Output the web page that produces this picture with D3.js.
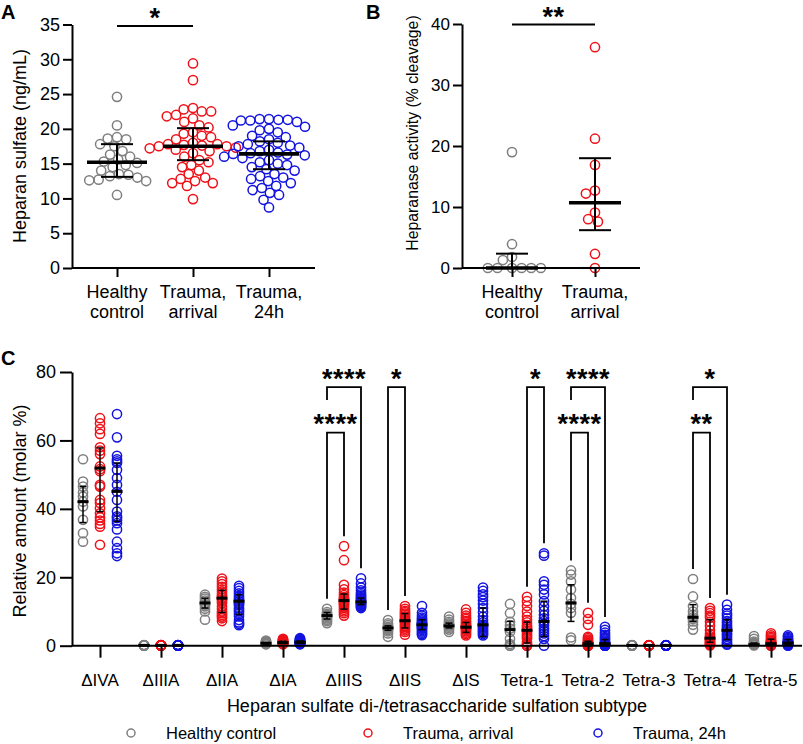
<!DOCTYPE html>
<html><head><meta charset="utf-8">
<script src="https://cdn.jsdelivr.net/npm/d3@7"></script>
<style>
body{margin:0;background:#fff}
text{font-family:"Liberation Sans",Arial,Helvetica,sans-serif;fill:#000}
</style>
</head><body>
<svg id="chart" width="803" height="744"></svg>
<script>
// ---------------- DATA ----------------
const groupNames = ["Healthy control", "Trauma, arrival", "Trauma, 24h"];
const groupColors = ["#7f7f7f", "#ee1118", "#1414e0"];

// Panel A: Heparan sulfate (ng/mL)
const aCategories = ["Healthy control", "Trauma, arrival", "Trauma, 24h"];
const aLabels = [["Healthy", "control"], ["Trauma,", "arrival"], ["Trauma,", "24h"]];
const aHealthy = [24.6, 20.5, 18.8, 18.6, 18.5, 17.8, 17.5, 16.8, 16.3, 16.0, 15.6, 15.3, 15.1, 14.8, 14.5, 14.0, 13.5, 13.4, 13.2, 13.0, 12.7, 12.6, 12.5, 10.5];
const aArrival = [29.4, 27.0, 23.0, 22.8, 22.5, 22.5, 22.0, 21.8, 21.5, 21.0, 20.5, 20.2, 19.5, 19.3, 19.0, 18.8, 18.5, 18.0, 17.8, 17.8, 17.7, 17.6, 17.5, 17.5, 17.3, 17.2, 17.0, 16.8, 16.5, 16.0, 15.5, 15.2, 14.8, 14.5, 14.0, 13.5, 13.0, 12.8, 12.5, 12.2, 12.2, 11.8, 9.9];
const a24h = [21.4, 21.4, 21.3, 21.3, 21.2, 21.2, 21.0, 20.5, 20.3, 20.0, 19.8, 19.5, 19.0, 18.8, 18.5, 18.2, 18.0, 17.8, 17.6, 17.5, 17.3, 17.0, 16.8, 16.6, 16.5, 16.4, 16.3, 16.2, 16.0, 15.8, 15.5, 15.2, 15.0, 14.8, 14.5, 14.2, 14.0, 13.5, 13.2, 13.0, 12.8, 12.5, 12.2, 11.8, 11.5, 11.2, 10.8, 10.5, 9.8, 8.7];
const aMedian = [15.2, 17.5, 16.4];
const aQ1 = [13.1, 15.5, 14.2];
const aQ3 = [17.8, 20.1, 18.2];
const aTicks = [0, 5, 10, 15, 20, 25, 30, 35];

// Panel B: Heparanase activity (% cleavage)
const bCategories = ["Healthy control", "Trauma, arrival"];
const bLabels = [["Healthy", "control"], ["Trauma,", "arrival"]];
const bHealthy = [19.0, 3.9, 1.8, 1.3, 0, 0, 0, 0, 0, 0];
const bArrival = [36.2, 21.2, 16.9, 12.7, 12.2, 9.1, 8.0, 7.6, 2.3, 0];
const bMedian = [0, 10.7];
const bQ1 = [0, 6.2];
const bQ3 = [2.35, 18.0];
const bTicks = [0, 10, 20, 30, 40];

// Panel C: Relative amount (molar %)
const cCategories = ["ΔIVA", "ΔIIIA", "ΔIIA", "ΔIA", "ΔIIIS", "ΔIIS", "ΔIS", "Tetra-1", "Tetra-2", "Tetra-3", "Tetra-4", "Tetra-5"];
const cHealthy = [
  [54.5, 48.0, 46.5, 44.8, 43.6, 42.1, 40.7, 36.8, 32.9, 30.4],
  [0.2, 0.1, 0.1, 0.1, 0.1, 0.1, 0.1, 0.1, 0.1, 0.1],
  [14.9, 14.3, 13.8, 13.2, 12.5, 12.0, 11.5, 10.8, 10.0, 7.6],
  [1.5, 1.2, 1.0, 0.9, 0.8, 0.7, 0.6, 0.5, 0.5, 0.4],
  [10.8, 9.8, 9.3, 9.0, 8.7, 8.4, 8.0, 7.6, 7.2, 6.6],
  [7.5, 6.5, 6.0, 5.5, 5.2, 5.0, 4.6, 4.2, 3.6, 2.6],
  [8.5, 7.6, 7.0, 6.5, 6.2, 5.9, 5.6, 5.2, 4.7, 4.0],
  [12.2, 9.5, 7.0, 6.0, 5.0, 4.0, 2.0, 0.5, 0, 0],
  [22.0, 20.8, 18.8, 16.4, 14.0, 12.2, 11.0, 9.6, 2.4, 1.6],
  [0.2, 0.1, 0.1, 0.1, 0.1, 0.1, 0.1, 0.1, 0.1, 0.1],
  [19.5, 14.4, 11.5, 10.0, 9.0, 8.3, 7.8, 7.1, 6.1, 4.7],
  [2.8, 2.0, 1.2, 0.8, 0.6, 0.5, 0.4, 0.3, 0.2, 0.1]
];
const cArrival = [
  [66.5, 65.0, 63.3, 61.9, 58.0, 57.0, 56.0, 52.4, 51.6, 51.0, 47.0, 46.5, 42.6, 41.7, 40.2, 38.7, 37.5, 36.6, 35.6, 34.8, 29.5],
  [0.2, 0.2, 0.1, 0.1, 0.1, 0.1, 0.1, 0.1, 0.1, 0.1, 0.1, 0.1, 0.1, 0.1, 0.1, 0.1, 0.1, 0.1, 0.1, 0.1],
  [19.6, 18.8, 18.0, 17.2, 16.5, 15.8, 15.0, 14.5, 14.0, 13.5, 13.0, 12.5, 11.5, 10.8, 10.0, 9.5, 9.0, 8.5, 8.0, 7.2],
  [2.0, 1.8, 1.6, 1.5, 1.4, 1.3, 1.2, 1.1, 1.0, 1.0, 0.9, 0.9, 0.8, 0.8, 0.7, 0.7, 0.6, 0.5, 0.5, 0.4],
  [29.1, 25.0, 17.8, 16.5, 15.5, 14.8, 14.2, 13.8, 13.5, 13.0, 12.8, 12.5, 12.2, 11.9, 11.5, 11.0, 10.5, 10.0, 9.5, 8.8],
  [11.6, 10.8, 10.2, 9.8, 9.4, 9.0, 8.6, 8.2, 7.8, 7.4, 7.2, 7.0, 6.6, 6.2, 5.8, 5.4, 5.0, 4.5, 4.0, 3.2],
  [10.6, 9.6, 8.8, 8.2, 7.8, 7.2, 6.8, 6.4, 6.0, 5.8, 5.6, 5.4, 5.2, 5.0, 4.8, 4.5, 4.2, 3.8, 3.4, 3.0],
  [14.3, 13.0, 11.6, 10.0, 8.5, 7.5, 6.8, 6.0, 5.5, 5.0, 4.5, 4.0, 3.5, 3.0, 2.5, 2.0, 1.0, 0.5, 0, 0],
  [9.6, 7.8, 6.1, 2.6, 2.2, 1.8, 1.5, 1.2, 1.0, 0.8, 0.6, 0.5, 0.4, 0.3, 0.2, 0.1, 0.1, 0, 0, 0],
  [0.2, 0.1, 0.1, 0.1, 0.1, 0.1, 0.1, 0.1, 0.1, 0.1, 0.1, 0.1, 0.1, 0.1, 0.1, 0.1, 0.1, 0.1, 0.1, 0.1],
  [11.0, 10.2, 9.5, 8.8, 8.2, 7.0, 5.8, 4.5, 3.5, 2.8, 2.4, 2.0, 1.8, 1.5, 1.2, 1.0, 0.8, 0.5, 0.3, 0.1],
  [3.6, 3.0, 2.6, 2.2, 1.8, 1.5, 1.3, 1.1, 1.0, 0.9, 0.8, 0.7, 0.6, 0.5, 0.4, 0.3, 0.2, 0.1, 0.1, 0]
];
const c24h = [
  [67.7, 60.9, 55.5, 54.5, 53.9, 53.4, 51.4, 49.0, 47.0, 45.0, 42.6, 39.2, 37.8, 37.3, 36.6, 35.8, 34.0, 30.4, 28.5, 27.0, 26.2],
  [0.2, 0.2, 0.1, 0.1, 0.1, 0.1, 0.1, 0.1, 0.1, 0.1, 0.1, 0.1, 0.1, 0.1, 0.1, 0.1, 0.1, 0.1, 0.1, 0.1],
  [17.5, 16.8, 16.0, 15.3, 14.6, 14.0, 13.5, 13.0, 12.5, 12.2, 11.8, 11.0, 10.5, 10.0, 9.3, 8.6, 7.5, 6.8, 6.4, 6.0],
  [2.2, 2.0, 1.8, 1.6, 1.5, 1.4, 1.3, 1.2, 1.1, 1.0, 1.0, 0.9, 0.9, 0.8, 0.8, 0.7, 0.6, 0.6, 0.5, 0.4],
  [19.7, 18.2, 17.0, 16.2, 15.5, 15.0, 14.6, 14.2, 13.9, 13.6, 13.3, 13.0, 12.7, 12.5, 12.2, 12.0, 11.8, 11.5, 11.3, 11.0],
  [11.6, 9.6, 8.8, 8.2, 7.8, 7.4, 7.0, 6.8, 6.5, 6.3, 6.0, 5.8, 5.5, 5.2, 5.0, 4.6, 4.2, 3.8, 3.4, 3.1],
  [17.0, 16.0, 15.0, 14.2, 13.2, 12.2, 11.0, 9.8, 8.5, 7.5, 6.8, 6.2, 5.8, 5.5, 5.0, 4.6, 4.2, 3.8, 3.4, 3.0],
  [27.0, 26.3, 18.8, 17.8, 16.4, 15.0, 13.0, 11.5, 10.2, 9.0, 8.0, 7.2, 6.5, 5.8, 5.0, 4.4, 3.6, 2.8, 2.0, 0],
  [5.5, 4.6, 3.8, 3.2, 2.6, 2.2, 1.8, 1.3, 1.0, 0.8, 0.6, 0.5, 0.4, 0.3, 0.2, 0.1, 0.1, 0, 0, 0],
  [0.2, 0.1, 0.1, 0.1, 0.1, 0.1, 0.1, 0.1, 0.1, 0.1, 0.1, 0.1, 0.1, 0.1, 0.1, 0.1, 0.1, 0.1, 0.1, 0.1],
  [12.0, 10.5, 9.4, 8.8, 8.0, 7.2, 6.6, 6.0, 5.5, 5.0, 4.6, 4.2, 3.6, 3.2, 2.6, 2.0, 1.6, 1.0, 0.6, 0.3],
  [3.0, 2.6, 2.2, 1.9, 1.6, 1.4, 1.2, 1.1, 1.0, 0.9, 0.8, 0.7, 0.6, 0.5, 0.4, 0.3, 0.2, 0.2, 0.1, 0]
];
const cHealthyMedian = [42.1, 0.1, 12.5, 0.7, 8.8, 5.2, 5.8, 4.7, 12.5, 0.1, 8.3, 0.3];
const cHealthyQ1 = [36.0, 0.1, 11.0, 0.5, 7.8, 4.5, 5.2, 0.0, 7.1, 0.1, 7.1, 0.1];
const cHealthyQ3 = [46.5, 0.1, 13.9, 1.0, 9.7, 5.8, 6.6, 7.1, 17.8, 0.1, 12.0, 0.8];
const cArrivalMedian = [51.9, 0.1, 13.9, 0.9, 13.2, 7.3, 5.4, 4.5, 0.6, 0.1, 2.2, 0.6];
const cArrivalQ1 = [39.2, 0.1, 9.7, 0.7, 10.7, 5.2, 3.9, 0.8, 0.0, 0.1, 1.0, 0.3];
const cArrivalQ3 = [57.8, 0.1, 16.2, 1.3, 15.1, 9.4, 6.8, 6.9, 1.3, 0.1, 7.6, 1.9];
const c24hMedian = [45.1, 0.1, 13.0, 1.0, 12.8, 6.1, 6.1, 7.1, 0.6, 0.1, 4.5, 0.8];
const c24hQ1 = [36.3, 0.1, 9.1, 0.8, 12.0, 4.7, 2.7, 2.7, 0.0, 0.1, 1.8, 0.3];
const c24hQ3 = [53.4, 0.1, 14.9, 1.4, 13.9, 7.6, 11.0, 13.0, 1.8, 0.1, 7.6, 1.8];
const cTicks = [0, 20, 40, 60, 80];
// significance brackets: category, first group, second group, level (0 = upper, 1 = lower), label
const cBracketCats = ["ΔIIIS", "ΔIIIS", "ΔIIS", "Tetra-1", "Tetra-2", "Tetra-2", "Tetra-4", "Tetra-4"];
const cBracketFrom = [0, 0, 0, 1, 0, 0, 0, 0];
const cBracketTo = [1, 2, 1, 2, 1, 2, 1, 2];
const cBracketLevel = [1, 0, 0, 0, 1, 0, 1, 0];
const cBracketLabels = ["****", "****", "*", "*", "****", "****", "**", "*"];

// ---------------- DRAWING ----------------
const svg = d3.select("#chart");
const BLACK = "#000";

function swarm(values, cx, yScale, dmin) {
  const pts = values.map(v => ({ v, y: yScale(v) })).sort((a, b) => b.v - a.v);
  const placed = [];
  pts.forEach(p => {
    const cands = [0];
    placed.forEach(q => {
      const dy = Math.abs(q.y - p.y);
      if (dy < dmin) {
        const dx = Math.sqrt(dmin * dmin - dy * dy);
        cands.push(q.x - cx + dx + 0.01, q.x - cx - dx - 0.01);
      }
    });
    cands.sort((a, b) => (Math.abs(a) - Math.abs(b)) || (a - b));
    for (const c of cands) {
      const x = cx + c;
      if (placed.every(q => (q.x - x) ** 2 + (q.y - p.y) ** 2 >= dmin * dmin - 0.05)) { p.x = x; break; }
    }
    placed.push(p);
  });
  return placed;
}

function yAxis(y, x0, ticks, tickLen, pad, fs) {
  const g = svg.append("g").attr("transform", `translate(${x0},0)`)
    .call(d3.axisLeft(y).tickValues(ticks).tickSize(tickLen).tickSizeOuter(0).tickPadding(pad).tickFormat(d3.format("d")));
  g.select(".domain").attr("stroke", BLACK).attr("stroke-width", 2);
  g.selectAll(".tick line").attr("stroke", BLACK).attr("stroke-width", 2);
  g.selectAll(".tick text").attr("font-size", fs).attr("fill", BLACK)
    .style("font-family", '"Liberation Sans",Arial,sans-serif');
  return g;
}

function xAxis(x, y0, xStart, xEnd, tickLen) {
  svg.append("line").attr("x1", xStart).attr("x2", xEnd).attr("y1", y0).attr("y2", y0)
    .attr("stroke", BLACK).attr("stroke-width", 2);
  const g = svg.append("g").attr("transform", `translate(0,${y0})`)
    .call(d3.axisBottom(x).tickSize(tickLen).tickSizeOuter(0).tickFormat(""));
  g.select(".domain").remove();
  g.selectAll(".tick line").attr("stroke", BLACK).attr("stroke-width", 2);
  return g;
}

function summary(cx, y, med, q1, q3, mw, cw, mwid, lw) {
  const g = svg.append("g").attr("stroke", BLACK);
  g.append("line").attr("x1", cx).attr("x2", cx).attr("y1", y(q1)).attr("y2", y(q3)).attr("stroke-width", lw);
  g.append("line").attr("x1", cx - cw).attr("x2", cx + cw).attr("y1", y(q1)).attr("y2", y(q1)).attr("stroke-width", lw);
  g.append("line").attr("x1", cx - cw).attr("x2", cx + cw).attr("y1", y(q3)).attr("y2", y(q3)).attr("stroke-width", lw);
  g.append("line").attr("x1", cx - mw).attr("x2", cx + mw).attr("y1", y(med)).attr("y2", y(med)).attr("stroke-width", mwid);
}

function stars(x, yc, label) {
  svg.append("text").attr("x", x).attr("y", yc + 16).attr("text-anchor", "middle")
    .attr("font-size", 27).attr("font-weight", "bold").attr("letter-spacing", 0.5).text(label);
}

function panelLetter(t, x, y) {
  svg.append("text").attr("x", x).attr("y", y).attr("font-size", 20).attr("font-weight", "bold").text(t);
}

function catLabels(x, cats, labels, y1, y2, fs) {
  cats.forEach((c, i) => {
    const t = svg.append("text").attr("text-anchor", "middle").attr("font-size", fs);
    t.append("tspan").attr("x", x(c)).attr("y", y1).text(labels[i][0]);
    t.append("tspan").attr("x", x(c)).attr("y", y2).text(labels[i][1]);
  });
}

const R = 4.6, SW = 1.5;

// ---- Panel A ----
{
  const y = d3.scaleLinear().domain([0, 35]).range([268, 24.5]);
  const x = d3.scalePoint().domain(aCategories).range([117, 269]);
  const series = [aHealthy, aArrival, a24h];
  series.forEach((vals, i) => {
    const pts = swarm(vals, x(aCategories[i]), y, 9.4);
    svg.append("g").selectAll("circle").data(pts).join("circle")
      .attr("cx", d => d.x).attr("cy", d => d.y).attr("r", R)
      .attr("fill", "none").attr("stroke", groupColors[i]).attr("stroke-width", SW);
  });
  aCategories.forEach((c, i) => summary(x(c), y, aMedian[i], aQ1[i], aQ3[i], 30, 16, 3.6, 2));
  yAxis(y, 72, aTicks, 9, 3, 18);
  xAxis(x, 268, 72, 315, 9);
  catLabels(x, aCategories, aLabels, 297.5, 318, 18);
  svg.append("text").attr("transform", "translate(26,146) rotate(-90)").attr("text-anchor", "middle")
    .attr("font-size", 18).text("Heparan sulfate (ng/mL)");
  svg.append("line").attr("x1", x(aCategories[0])).attr("x2", x(aCategories[1])).attr("y1", 26).attr("y2", 26)
    .attr("stroke", BLACK).attr("stroke-width", 1.8);
  stars((x(aCategories[0]) + x(aCategories[1])) / 2, 11, "*");
  panelLetter("A", 1, 19);
}

// ---- Panel B ----
{
  const y = d3.scaleLinear().domain([0, 40]).range([268, 24]);
  const x = d3.scalePoint().domain(bCategories).range([512, 595]);
  const series = [bHealthy, bArrival];
  series.forEach((vals, i) => {
    const pts = swarm(vals, x(bCategories[i]), y, 9.6);
    svg.append("g").selectAll("circle").data(pts).join("circle")
      .attr("cx", d => d.x).attr("cy", d => d.y).attr("r", R)
      .attr("fill", "none").attr("stroke", groupColors[i]).attr("stroke-width", SW);
  });
  bCategories.forEach((c, i) => summary(x(c), y, bMedian[i], bQ1[i], bQ3[i], 26, 16, 3.6, 2));
  yAxis(y, 462, bTicks, 9, 3, 17);
  xAxis(x, 268, 462, 640, 9);
  catLabels(x, bCategories, bLabels, 297.5, 318, 18);
  svg.append("text").attr("transform", "translate(418,133) rotate(-90)").attr("text-anchor", "middle")
    .attr("font-size", 15.8).text("Heparanase activity (% cleavage)");
  svg.append("line").attr("x1", x(bCategories[0])).attr("x2", x(bCategories[1])).attr("y1", 24.5).attr("y2", 24.5)
    .attr("stroke", BLACK).attr("stroke-width", 1.8);
  stars((x(bCategories[0]) + x(bCategories[1])) / 2, 9.5, "**");
  panelLetter("B", 366, 18.5);
}

// ---- Panel C ----
{
  const y = d3.scaleLinear().domain([0, 80]).range([645.7, 372]);
  const x = d3.scalePoint().domain(cCategories).range([100, 771]);
  const off = d3.scalePoint().domain([0, 1, 2]).range([-17, 17]);
  const series = [cHealthy, cArrival, c24h];
  const meds = [cHealthyMedian, cArrivalMedian, c24hMedian];
  const q1s = [cHealthyQ1, cArrivalQ1, c24hQ1];
  const q3s = [cHealthyQ3, cArrivalQ3, c24hQ3];

  series.forEach((s, gi) => {
    s.forEach((vals, ci) => {
      const cx = x(cCategories[ci]) + off(gi);
      svg.append("g").selectAll("circle").data(vals).join("circle")
        .attr("cx", cx).attr("cy", d => y(d)).attr("r", R)
        .attr("fill", "none").attr("stroke", groupColors[gi]).attr("stroke-width", SW);
    });
  });
  series.forEach((s, gi) => {
    s.forEach((vals, ci) => {
      const cx = x(cCategories[ci]) + off(gi);
      summary(cx, y, meds[gi][ci], q1s[gi][ci], q3s[gi][ci], 5.5, 3.5, 3, 1.5);
    });
  });

  yAxis(y, 72, cTicks, 12, 4, 18);
  xAxis(x, 645.7, 72, 802, 12);
  svg.append("g").selectAll("text").data(cCategories).join("text")
    .attr("x", d => x(d)).attr("y", 686).attr("text-anchor", "middle").attr("font-size", 17).text(d => d);
  svg.append("text").attr("x", 437).attr("y", 712).attr("text-anchor", "middle").attr("font-size", 18)
    .text("Heparan sulfate di-/tetrasaccharide sulfation subtype");
  svg.append("text").attr("transform", "translate(26,511) rotate(-90)").attr("text-anchor", "middle")
    .attr("font-size", 18).text("Relative amount (molar %)");

  // brackets
  const topLevels = [75.6, 62.3];
  cBracketCats.forEach((cat, k) => {
    const ci = cCategories.indexOf(cat);
    const xa = x(cat) + off(cBracketFrom[k]);
    const xb = x(cat) + off(cBracketTo[k]);
    const yt = y(topLevels[cBracketLevel[k]]);
    const hasLower = cBracketLevel[k] === 0 && cBracketCats.some((c2, j) => c2 === cat && cBracketLevel[j] === 1);
    const ya = hasLower ? yt + 13 : y(d3.max(series[cBracketFrom[k]][ci])) - 10;
    const yb = y(d3.max(series[cBracketTo[k]][ci])) - 10;
    svg.append("path").attr("d", `M${xa},${ya}V${yt}H${xb}V${yb}`)
      .attr("fill", "none").attr("stroke", BLACK).attr("stroke-width", 1.8);
    stars((xa + xb) / 2, yt - 15.5, cBracketLabels[k]);
  });

  // legend
  const legX = [131, 368, 598];
  groupNames.forEach((n, i) => {
    svg.append("circle").attr("cx", legX[i]).attr("cy", 733).attr("r", 4)
      .attr("fill", "none").attr("stroke", groupColors[i]).attr("stroke-width", SW);
    svg.append("text").attr("x", legX[i] + 35).attr("y", 739).attr("font-size", 16.5).text(n);
  });
  panelLetter("C", 1, 365);
}
</script>
</body></html>
